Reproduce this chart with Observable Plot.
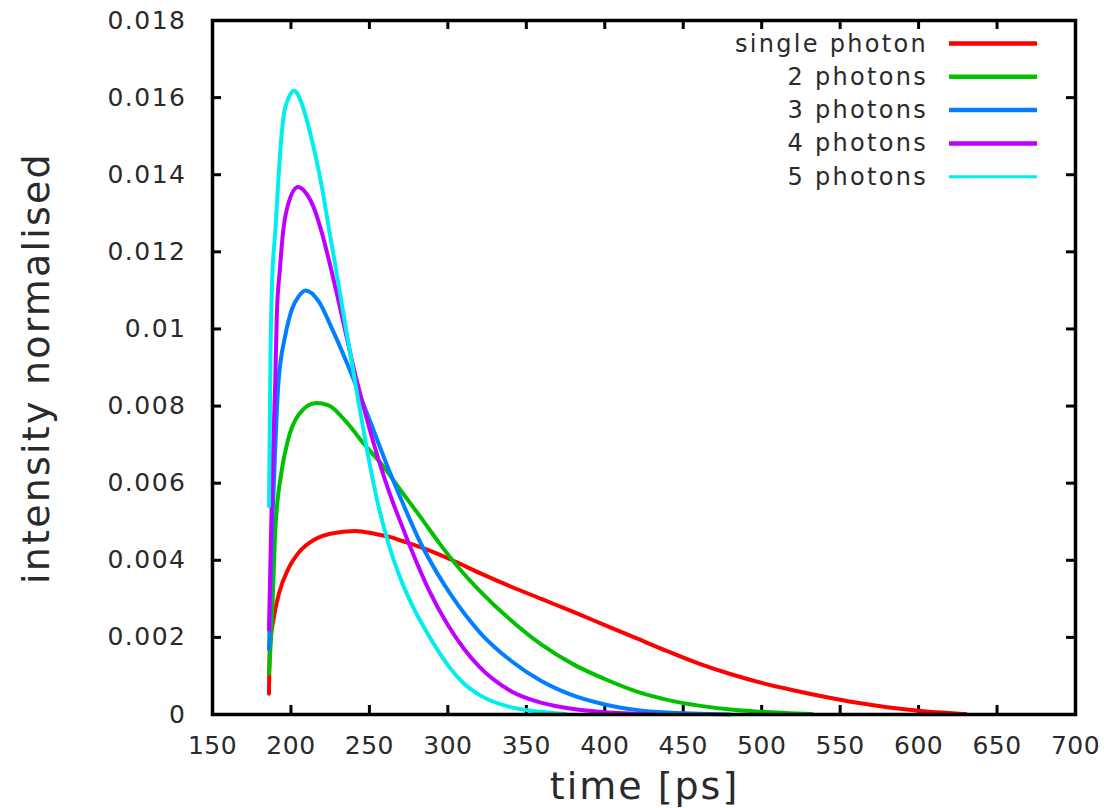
<!DOCTYPE html>
<html>
<head>
<meta charset="utf-8">
<script src="https://cdn.jsdelivr.net/npm/d3@7"></script>
<script src="https://cdn.jsdelivr.net/npm/@observablehq/plot@0.6"></script>
<style>
  html, body { margin: 0; padding: 0; background: #fff; }
  #chart { width: 1104px; height: 808px; }
</style>
</head>
<body>
<div id="chart"></div>
<script>
// ---- data ----
const seriesNames = ["single photon", "2 photons", "3 photons", "4 photons", "5 photons"];
const seriesColors = ["#ff0000", "#00c000", "#0080ff", "#c000ff", "#00eeee"];

const tRed = [186, 186.5, 189, 192.3, 198.6, 205, 215.6, 225, 241, 254, 263.5, 271, 282.6, 301.8, 320.8, 340, 360, 380, 400, 420, 440, 460, 480, 500, 520, 540, 560, 580, 600, 615, 630];
const vRed = [0.00054, 0.0017, 0.0025, 0.00313, 0.0038, 0.0042, 0.00455, 0.00469, 0.00476, 0.00468, 0.0046, 0.0045, 0.00434, 0.00402, 0.00366, 0.00332, 0.00299, 0.00266, 0.00232, 0.00198, 0.00164, 0.00132, 0.00105, 0.00082, 0.00063, 0.00046, 0.00031, 0.00019, 0.0001, 0.00005, 0.00001];

const tGreen = [186, 188, 190, 194, 198, 205, 216, 224, 235, 246.5, 259.3, 270, 282.6, 295, 307, 320, 340, 359, 380, 400, 420, 440, 460, 480, 500, 532];
const vGreen = [0.00106, 0.0026, 0.00476, 0.0063, 0.0071, 0.00778, 0.00808, 0.00802, 0.0076, 0.00702, 0.00641, 0.00581, 0.00512, 0.00442, 0.0038, 0.00322, 0.00245, 0.00183, 0.0013, 0.00092, 0.0006, 0.00038, 0.00023, 0.00013, 0.00007, 0.00001];

const tBlue = [186, 188, 190, 192, 196.5, 200.8, 205, 209.3, 217.8, 226, 234.8, 242, 250.2, 260.9, 271.5, 282, 293, 302, 321, 340, 359, 378, 400, 420, 440, 460, 480];
const vBlue = [0.0017, 0.0048, 0.0069, 0.0086, 0.00985, 0.01053, 0.01085, 0.011, 0.01071, 0.01002, 0.0092, 0.00848, 0.00763, 0.0065, 0.00546, 0.0045, 0.00368, 0.0031, 0.0021, 0.0014, 0.00088, 0.00052, 0.00026, 0.00012, 0.00005, 0.00002, 0];

const tPurple = [186, 188, 190, 191, 193, 195, 198, 204.5, 210, 215, 220, 225, 230, 235, 240, 245, 250, 255, 260, 265, 270, 278, 288, 300, 310, 320, 340, 360, 380, 400, 430];
const vPurple = [0.0022, 0.006, 0.00864, 0.01036, 0.01157, 0.01252, 0.0132, 0.01368, 0.0135, 0.0131, 0.01245, 0.01165, 0.01078, 0.00988, 0.00898, 0.00818, 0.00742, 0.00672, 0.00608, 0.0055, 0.00497, 0.00415, 0.00322, 0.00232, 0.00172, 0.00124, 0.00061, 0.0003, 0.00014, 0.00006, 0.00001];

const tCyan = [186, 187, 188, 190, 191.9, 193.3, 195.4, 198.6, 202, 206.6, 211, 215.6, 219.9, 224, 228.4, 232.7, 237.5, 242, 248, 254.4, 261.8, 269.3, 277.8, 286.3, 292.7, 301.7, 310, 320.8, 340, 359, 375];
const vCyan = [0.0054, 0.0095, 0.01122, 0.01252, 0.01381, 0.01467, 0.01553, 0.016, 0.01618, 0.01588, 0.01528, 0.0145, 0.01364, 0.01265, 0.01162, 0.01058, 0.00943, 0.00836, 0.00697, 0.00565, 0.00448, 0.00358, 0.00279, 0.00215, 0.00172, 0.00119, 0.00081, 0.00049, 0.00019, 0.00007, 0.00001];

const xTicks = [150, 200, 250, 300, 350, 400, 450, 500, 550, 600, 650, 700];
const yTicks = [0, 0.002, 0.004, 0.006, 0.008, 0.01, 0.012, 0.014, 0.016, 0.018];

// ---- build table ----
const seriesT = [tRed, tGreen, tBlue, tPurple, tCyan];
const seriesV = [vRed, vGreen, vBlue, vPurple, vCyan];
const rows = [];
seriesNames.forEach((name, i) => {
  seriesT[i].forEach((t, j) => rows.push({series: name, t, v: seriesV[i][j]}));
});

const W = 1104, H = 808;
const mL = 212, mR = 29, mT = 20, mB = 94;
const innerW = W - mL - mR, innerH = H - mT - mB;
const tick = 9;
const textColor = "#2a2a2a";

const chart = Plot.plot({
  width: W,
  height: H,
  marginLeft: mL,
  marginRight: mR,
  marginTop: mT,
  marginBottom: mB,
  style: {fontFamily: "DejaVu Sans", fontSize: "25px", color: textColor, background: "#fff"},
  x: {domain: [150, 700]},
  y: {domain: [0, 0.018]},
  color: {domain: seriesNames, range: seriesColors},
  marks: [
    Plot.axisX(xTicks, {tickSize: 0, tickPadding: 22, label: null, fill: textColor}),
    Plot.axisY(yTicks, {tickSize: 0, tickPadding: 26, label: null, fill: textColor,
      tickFormat: d => String(+d.toFixed(3))}),
    // inward ticks on all four sides (gnuplot style)
    Plot.ruleY(yTicks, {stroke: "black", strokeWidth: 3, insetRight: innerW - tick}),
    Plot.ruleY(yTicks, {stroke: "black", strokeWidth: 3, insetLeft: innerW - tick}),
    Plot.ruleX(xTicks, {stroke: "black", strokeWidth: 3, insetTop: innerH - tick}),
    Plot.ruleX(xTicks, {stroke: "black", strokeWidth: 3, insetBottom: innerH - tick}),
    Plot.line(rows, {x: "t", y: "v", z: "series", stroke: "series", strokeWidth: 4, curve: "monotone-x"}),
    Plot.frame({stroke: "black", strokeWidth: 3.5})
  ]
});

document.getElementById("chart").appendChild(chart);

const svg = d3.select(chart);
// widen tick labels slightly like the gnuplot rendering
svg.selectAll('g[aria-label="y-axis tick label"] text').attr("letter-spacing", "1.5px");
svg.selectAll('g[aria-label="x-axis tick label"] text').attr("letter-spacing", "0.5px");

// axis titles
svg.append("text")
  .attr("x", mL + innerW / 2 + 1).attr("y", 786)
  .attr("text-anchor", "middle").attr("dominant-baseline", "central")
  .attr("font-family", "DejaVu Sans").attr("font-size", 38).attr("fill", textColor)
  .attr("letter-spacing", "2px")
  .text("time [ps]");
svg.append("text")
  .attr("transform", `translate(36, ${mT + innerH / 2 + 1}) rotate(-90)`)
  .attr("text-anchor", "middle").attr("dominant-baseline", "central")
  .attr("font-family", "DejaVu Sans").attr("font-size", 38).attr("fill", textColor)
  .attr("letter-spacing", "2.2px")
  .text("intensity normalised");

// legend
const lg = svg.append("g");
seriesNames.forEach((name, i) => {
  const y = 43.5 + i * 33.3;
  lg.append("text")
    .attr("x", 928).attr("y", y)
    .attr("text-anchor", "end").attr("dominant-baseline", "central")
    .attr("font-family", "DejaVu Sans").attr("font-size", 24).attr("fill", textColor)
    .attr("letter-spacing", "2.3px")
    .text(name);
  lg.append("line")
    .attr("x1", 949).attr("x2", 1037).attr("y1", y).attr("y2", y)
    .attr("stroke", seriesColors[i]).attr("stroke-width", i === 4 ? 3 : 4.5);
});
</script>
</body>
</html>
